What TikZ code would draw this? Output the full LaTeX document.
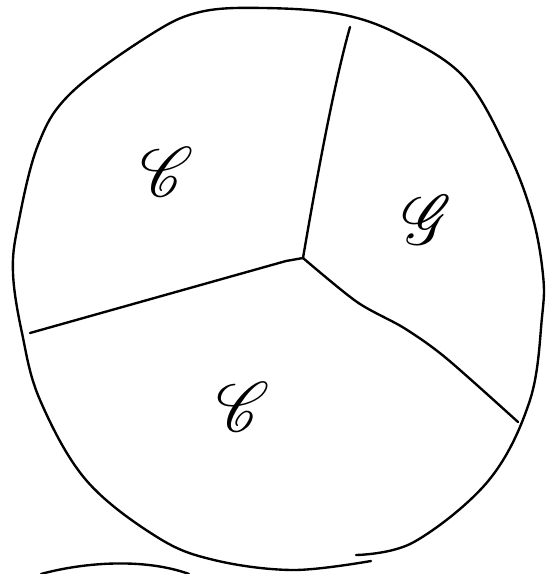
\documentclass[tikz,border=0pt]{standalone}
\usepackage{mathrsfs}
\usetikzlibrary{calc}

\begin{document}
\begin{tikzpicture}[x=0.02cm, y=-0.02cm,
  pen/.style={black, line width=1.35pt, line cap=round, line join=round},
  letter/.style={font=\fontsize{30}{30}\selectfont, inner sep=0pt}]

  \useasboundingbox (0,0) rectangle (557,574);

  % --- outer rim ---
  \draw[pen] plot[smooth, tension=0.6] coordinates {
    (356,555) (414,542) (489,480) (530,400) (542,317) (543,275)
    (532,215) (507,150) (464,77) (400,35) (340,14) (263,8) (200,12)
    (150,35) (71,93) (38,145) (18,225) (13,273) (22,333) (40,400)
    (86,480) (157,537) (214,560) (293,570) (371,561)};

  % --- bottom arc, cut by the page ---
  \draw[pen] (41,574) .. controls (85,562) and (145,558) .. (189,574);

  % --- junction and the three walls ---
  \coordinate (mid) at (303,258);
  \coordinate (topend) at (350,27);
  \coordinate (leftend) at (30,333);
  \coordinate (rightend) at (518,422);

  \draw[pen] (mid) .. controls (318,170) and (335,80) .. (topend);
  \draw[pen] (mid) -- (286,261) -- (leftend);
  \draw[pen] plot[smooth, tension=0.5] coordinates {
    (mid) (357,302) (404,328) (446,358) (rightend)};

  % --- region labels ---
  \node[letter] (upperC) at (167,172) {\scalebox{1.45}[1.6]{$\mathscr{C}$}};
  \node[letter] (rightG) at (427,220) {\scalebox{1.45}[1.6]{$\mathscr{G}$}};
  \node[letter] (lowerC) at (243,407) {\scalebox{1.45}[1.6]{$\mathscr{C}$}};
\end{tikzpicture}
\end{document}
